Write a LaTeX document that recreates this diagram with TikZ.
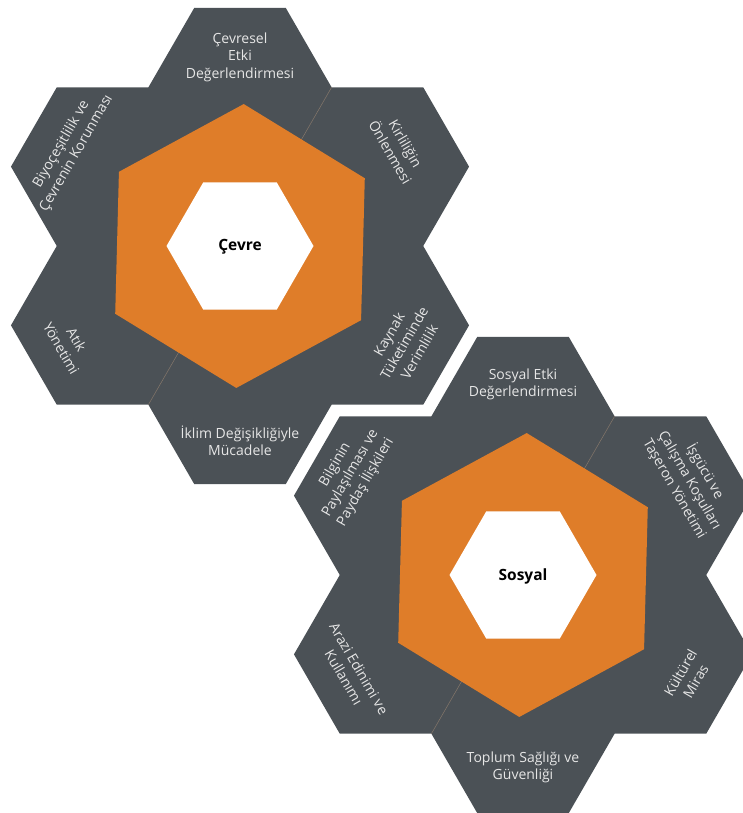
\documentclass[tikz,border=0pt]{standalone}
\usepackage{fontspec}
\setmainfont{Open Sans}
\definecolor{hexgrey}{HTML}{4B5156}
\definecolor{hexorange}{HTML}{DF7D29}
\definecolor{labgrey}{HTML}{E6E6E6}
\definecolor{seam}{HTML}{85776A}

\begin{document}
\begin{tikzpicture}[x=1pt, y=-1pt,
  lab/.style={text=labgrey, font=\fontsize{14}{17.5}\selectfont, align=center, inner sep=0pt},
  core/.style={text=black, font=\fontsize{15.5}{17}\selectfont\bfseries, inner sep=0pt}]
\useasboundingbox (0,0) rectangle (743,813);
\clip (0,0) rectangle (743,813);
% ---- cluster (a): Cevre ----
\begin{scope}[shift={(240,246)}]
  % seven grey hexagons as one path, so no seams show between them
  \fill[hexgrey] \foreach \a/\d in {0/0,30/158.7,90/158.7,150/158.7,210/158.7,270/158.7,330/158.7}
    {(\a:\d) +(0:91.6) \foreach \k in {1,...,5} {-- +(\k*60:91.6)} -- cycle};
  \draw[seam, line width=0.5pt] (91.6,-158.7) -- (45.8,-79.35);
  \draw[seam, line width=0.5pt] (-91.6,158.7) -- (-45.8,79.35);
  \fill[hexorange] (31.5:142) \foreach \k in {1,...,5} {-- (\k*60+31.5:142)} -- cycle;
  \fill[white] (0:73.5) \foreach \k in {1,...,5} {-- (\k*60:73.5)} -- cycle;
  \node[core] (cevre) at (0,1) {Çevre};
  \foreach \i/\x/\y/\r/\txt in {1/0/-189/0/{Çevresel\\Etki\\Değerlendirmesi},
      2/158/-98/-60/{Kirliliğin\\Önlenmesi},
      3/164/97/60/{Kaynak\\Tüketiminde\\Verimlilik},
      4/0/195/0/{İklim Değişikliğiyle\\Mücadele},
      5/-171/98/-60/{Atık\\Yönetimi},
      6/-171/-97/60/{Biyoçeşitlilik ve\\Çevrenin Korunması}}
    \node[lab, rotate=\r] (cev\i) at (\x,\y) {\txt};
\end{scope}
% ---- cluster (b): Sosyal ----
\begin{scope}[shift={(523,575)}]
  \fill[hexgrey] \foreach \a/\d in {0/0,30/158.7,90/158.7,150/158.7,210/158.7,270/158.7,330/158.7}
    {(\a:\d) +(0:91.6) \foreach \k in {1,...,5} {-- +(\k*60:91.6)} -- cycle};
  \draw[seam, line width=0.5pt] (91.6,-158.7) -- (45.8,-79.35);
  \draw[seam, line width=0.5pt] (-91.6,158.7) -- (-45.8,79.35);
  \fill[hexorange] (31.5:142) \foreach \k in {1,...,5} {-- (\k*60+31.5:142)} -- cycle;
  \fill[white] (0:73.5) \foreach \k in {1,...,5} {-- (\k*60:73.5)} -- cycle;
  \node[core] (sosyal) at (0,1) {Sosyal};
  \foreach \i/\x/\y/\r/\txt in {1/0/-190.5/0/{Sosyal Etki\\Değerlendirmesi},
      2/167/-95/-60/{İşgücü ve\\Çalışma Koşulları\\Taşeron Yönetimi},
      3/165/102/60/{Kültürel\\Miras},
      4/0/192.5/0/{Toplum Sağlığı ve\\Güvenliği},
      5/-171.5/98/-60/{Arazi Edinimi ve\\Kullanımı},
      6/-172.5/-101.5/60/{Bilginin\\Paylaşılması ve\\Paydaş İlişkileri}}
    \node[lab, rotate=\r] (sos\i) at (\x,\y) {\txt};
\end{scope}
\end{tikzpicture}
\end{document}
